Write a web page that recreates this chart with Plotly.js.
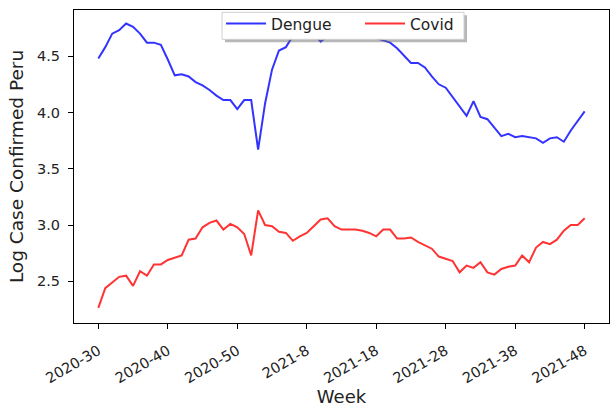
<!DOCTYPE html>
<html>
<head>
<meta charset="utf-8">
<script src="https://cdn.plot.ly/plotly-3.0.1.min.js"></script>
<style>html,body{margin:0;padding:0;background:#fff;}#chart{width:610px;height:407px;}</style>
</head>
<body>
<div id="chart"></div>
<script>
// Week labels: 2020-30 .. 2020-52, 2021-1 .. 2021-48
const weeks2020 = [30,31,32,33,34,35,36,37,38,39,40,41,42,43,44,45,46,47,48,49,50,51,52];
const weeks2021 = [1,2,3,4,5,6,7,8,9,10,11,12,13,14,15,16,17,18,19,20,21,22,23,24,25,26,27,28,29,30,31,32,33,34,35,36,37,38,39,40,41,42,43,44,45,46,47,48];
const weekLabels = weeks2020.map(w => '2020-' + w).concat(weeks2021.map(w => '2021-' + w));

const dengue = [4.48,4.58,4.70,4.73,4.79,4.76,4.70,4.62,4.62,4.60,
                4.47,4.33,4.34,4.32,4.27,4.24,4.20,4.15,4.11,4.11,
                4.03,4.11,4.11,3.67,4.08,4.38,4.55,4.58,4.68,4.72,
                4.73,4.70,4.63,4.68,4.72,4.74,4.73,4.75,4.72,4.70,
                4.66,4.64,4.62,4.57,4.50,4.44,4.44,4.40,4.32,4.25,
                4.22,4.14,4.06,3.97,4.10,3.96,3.94,3.86,3.79,3.81,
                3.78,3.79,3.78,3.77,3.73,3.77,3.78,3.74,3.84,3.92,
                4.01];
const covid = [2.265,2.44,2.49,2.54,2.55,2.46,2.59,2.55,2.65,2.65,
               2.69,2.71,2.73,2.87,2.88,2.98,3.02,3.04,2.96,3.01,
               2.98,2.92,2.73,3.13,3.00,2.99,2.94,2.93,2.86,2.90,
               2.93,2.99,3.05,3.06,2.99,2.96,2.96,2.96,2.95,2.93,
               2.90,2.96,2.96,2.88,2.88,2.89,2.85,2.82,2.79,2.72,
               2.70,2.68,2.58,2.64,2.62,2.67,2.58,2.56,2.61,2.63,
               2.64,2.73,2.67,2.80,2.85,2.83,2.87,2.95,3.00,3.00,
               3.06];
const tickLabels = ['2020-30','2020-40','2020-50','2021-8','2021-18','2021-28','2021-38','2021-48'];
const yTicks = [2.5, 3.0, 3.5, 4.0, 4.5];

const idx = weekLabels.map((_, i) => i);
const tickVals = tickLabels.map(t => weekLabels.indexOf(t));

// plot-area pixel geometry -> paper coordinates helpers
const PX0 = 74, PW = 535, PY0 = 10, PH = 313;
const px = v => (v - PX0) / PW;
const py = v => (PY0 + PH - v) / PH;

const font = 'DejaVu Sans, sans-serif';
const txt = '#222222';
const legFont = {family: font, size: 15.5, color: txt};
const traces = [
  {x: idx, y: dengue, type: 'scatter', mode: 'lines', name: 'Dengue', legend: 'legend',
   line: {color: 'rgba(0,0,255,0.8)', width: 2}},
  {x: idx, y: covid, type: 'scatter', mode: 'lines', name: 'Covid', legend: 'legend2',
   line: {color: 'rgba(255,0,0,0.8)', width: 2}}
];
const layout = {
  width: 610, height: 407,
  margin: {l: 74, r: 1, t: 10, b: 84},
  paper_bgcolor: '#fff', plot_bgcolor: '#fff',
  font: {family: font, color: txt, size: 14},
  showlegend: true,
  legend: {orientation: 'h', x: px(221), xanchor: 'left', y: py(24), yanchor: 'middle',
           bgcolor: 'rgba(0,0,0,0)', borderwidth: 0, font: legFont, itemwidth: 40},
  legend2: {orientation: 'h', x: px(360), xanchor: 'left', y: py(24), yanchor: 'middle',
           bgcolor: 'rgba(0,0,0,0)', borderwidth: 0, font: legFont, itemwidth: 40},
  shapes: [
    {type: 'rect', xref: 'paper', yref: 'paper', layer: 'above',
     x0: px(225), x1: px(467), y0: py(42.3), y1: py(15.3),
     fillcolor: 'rgba(110,110,110,0.5)', line: {width: 0}},
    {type: 'rect', xref: 'paper', yref: 'paper', layer: 'above',
     x0: px(222), x1: px(464), y0: py(39.3), y1: py(12.3),
     fillcolor: '#ffffff', line: {color: '#d0d0d0', width: 1}}
  ],
  xaxis: {
    range: [-3.5, 73.5], tickmode: 'array', tickvals: tickVals, ticktext: tickLabels,
    tickangle: -30, ticks: 'outside', ticklen: 5, tickcolor: '#000', tickwidth: 1,
    ticklabelstandoff: 8,
    showline: true, mirror: true, linecolor: '#000', linewidth: 1,
    showgrid: false, zeroline: false,
    tickfont: {family: font, size: 14.5, color: txt},
    title: {text: 'Week', font: {family: font, size: 18, color: txt}, standoff: 0}
  },
  yaxis: {
    range: [2.13, 4.91], tickmode: 'array', tickvals: yTicks, ticktext: yTicks.map(v => v.toFixed(1)),
    ticks: 'outside', ticklen: 5, tickcolor: '#000', tickwidth: 1,
    ticklabelstandoff: 5,
    showline: true, mirror: true, linecolor: '#000', linewidth: 1,
    showgrid: false, zeroline: false,
    tickfont: {family: font, size: 14.5, color: txt},
    title: {text: 'Log Case Confirmed Peru', font: {family: font, size: 18.5, color: txt}, standoff: 8}
  }
};
Plotly.newPlot('chart', traces, layout, {displayModeBar: false, staticPlot: true});
</script>
</body>
</html>
